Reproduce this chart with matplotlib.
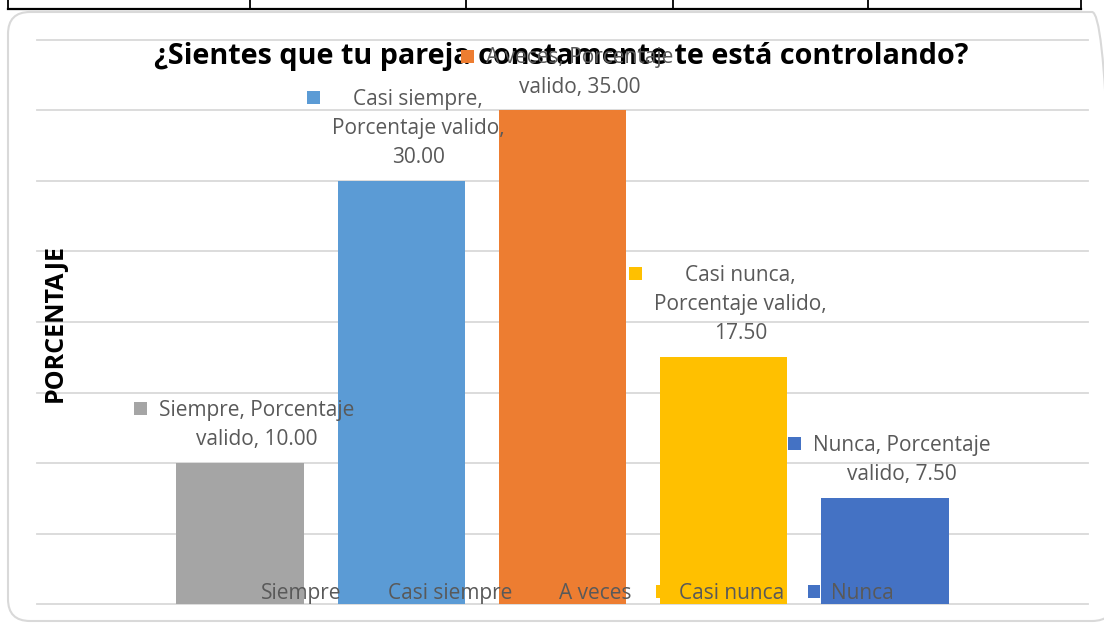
import textwrap
import numpy as np
import matplotlib.pyplot as plt
from matplotlib.patches import Patch, Rectangle, FancyBboxPatch
from matplotlib.lines import Line2D
from matplotlib.transforms import IdentityTransform

# datos
categorias = ['Siempre', 'Casi siempre', 'A veces', 'Casi nunca', 'Nunca']
porcentaje = [10.00, 30.00, 35.00, 17.50, 7.50]
colores = ['#A5A5A5', '#5B9BD5', '#ED7D31', '#FFC000', '#4472C4']
ancho_wrap = [19, 18, 19, 18, 19]
lineas_grid = [0, 5, 10, 15, 20, 25, 30, 35, 40]

titulo = '¿Sientes que tu pareja constamente te está controlando?'
fs = 15
gris_txt = '#595959'
plt.rcParams['font.family'] = ['Open Sans', 'DejaVu Sans']

W, H = 1104, 623
fig = plt.figure(figsize=(W / 100, H / 100), dpi=100)

# borde redondeado del area del grafico
caja = FancyBboxPatch((8, 2), 1106, 609, boxstyle='round,pad=0,rounding_size=22',
                      transform=IdentityTransform(), facecolor='none',
                      edgecolor='#D9D9D9', lw=1.5)
fig.patches.append(caja)

# restos de la tabla de arriba
fig.add_artist(Line2D([8 / W, 1081 / W], [1 - 9 / H, 1 - 9 / H], color='black', lw=1.6))
for xp in [8, 250, 466, 673, 868, 1081]:
    fig.add_artist(Line2D([xp / W, xp / W], [1 - 9 / H, 1.0], color='black', lw=1.3))

ax = fig.add_axes([37 / W, 19 / H, 1051 / W, 564 / H])
x = np.arange(len(categorias))
ax.bar(x, porcentaje, width=0.79, color=colores, zorder=2)
ax.set_xlim(-1.259, len(categorias) - 1 + 1.259)
ax.set_ylim(0, 40)
ax.set_yticks(lineas_grid)
ax.yaxis.grid(True, color='#D9D9D9', lw=1.3)
ax.set_axisbelow(True)
for gl in ax.get_ygridlines():
    gl.set_clip_on(False)
ax.tick_params(left=False, bottom=False, labelleft=False, labelbottom=False)
for s in ax.spines.values():
    s.set_visible(False)

fig.text(55 / W, 1 - 323 / H, 'PORCENTAJE', rotation=90, ha='center', va='center',
         fontsize=18, fontweight='bold', color='black')

ax.text(561 / W, 1 - 64 / H, titulo, transform=fig.transFigure, ha='center',
        va='baseline', fontsize=20.7, fontweight='bold', color='black', zorder=4)

# etiquetas de datos
etiquetas = []
for xi, cat, v, w in zip(x, categorias, porcentaje, ancho_wrap):
    s = textwrap.fill(f'{cat}, Porcentaje valido, {v:.2f}', w)
    t = ax.annotate(s, (xi, v), xytext=(17, 13), textcoords='offset pixels',
                    ha='center', va='bottom', fontsize=fs, color=gris_txt,
                    linespacing=1.5, zorder=6, annotation_clip=False)
    etiquetas.append(t)

handles = [Patch(facecolor=c) for c in colores]
leg = ax.legend(handles, categorias, ncol=5, loc='center', bbox_to_anchor=(0.503, 0.0195),
                frameon=False, fontsize=fs, labelcolor=gris_txt, handlelength=0.6,
                handleheight=0.6, handletextpad=0.5, columnspacing=1.15, borderaxespad=0)
leg.set_zorder(5)

# cuadradito de color a la izquierda de cada etiqueta
fig.canvas.draw()
inv = fig.transFigure.inverted()
for t, c in zip(etiquetas, colores):
    bb = t.get_window_extent()
    x0, y0 = inv.transform((bb.x0 - 25, bb.y1 - 15))
    x1, y1 = inv.transform((bb.x0 - 12, bb.y1 - 2))
    fig.add_artist(Rectangle((x0, y0), x1 - x0, y1 - y0, transform=fig.transFigure,
                             facecolor=c, edgecolor='none', zorder=7))

fig.savefig('out.png', dpi=100)
